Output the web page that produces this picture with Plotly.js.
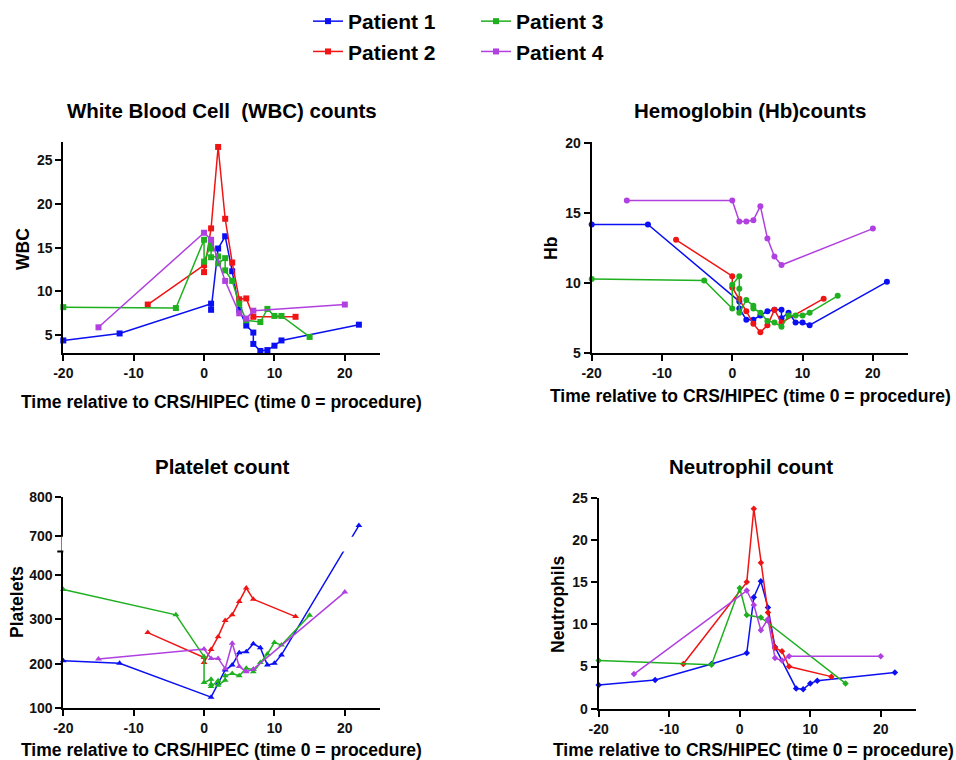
<!DOCTYPE html>
<html>
<head>
<meta charset="utf-8">
<script src="https://cdn.plot.ly/plotly-3.0.1.min.js"></script>
<style>html,body{margin:0;padding:0;background:#fff;}#chart{width:956px;height:760px;}</style>
</head>
<body>
<div id="chart"></div>
<script>
// ---------- data ----------
const patients = ["Patient 1", "Patient 2", "Patient 3", "Patient 4"];
const xTicks = [-20, -10, 0, 10, 20];

// WBC
const wbcX1 = [-20, -12, 1, 1, 2, 3, 4, 5, 6, 7, 7, 8, 9, 10, 11, 22];
const wbcY1 = [4.4, 5.2, 8.6, 7.9, 14.9, 16.3, 12.3, 7.9, 6.1, 5.3, 4.0, 3.2, 3.3, 3.8, 4.4, 6.2];
const wbcX2 = [-8, 0, 0, 1, 2, 3, 4, 5, 6, 7, 13];
const wbcY2 = [8.5, 13.0, 12.2, 17.2, 26.5, 18.3, 13.3, 9.1, 9.2, 7.1, 7.1];
const wbcX3 = [-20, -4, 0, 0, 1, 1, 1, 2, 2, 3, 3, 4, 5, 6, 8, 9, 10, 11, 15];
const wbcY3 = [8.2, 8.1, 15.9, 13.4, 15.4, 14.9, 13.9, 14.0, 13.2, 13.8, 12.4, 11.2, 8.6, 6.7, 6.5, 8.0, 7.2, 7.2, 4.8];
const wbcX4 = [-15, 0, 1, 3, 5, 6, 7, 20];
const wbcY4 = [5.9, 16.7, 15.9, 11.2, 7.5, 6.9, 7.8, 8.5];
const wbcTicks = [5, 10, 15, 20, 25];

// Hb
const hbX1 = [-20, -12, 1, 1, 2, 3, 4, 5, 6, 7, 7, 8, 9, 10, 11, 22];
const hbY1 = [14.2, 14.2, 8.7, 8.2, 7.4, 7.4, 7.7, 8.0, 8.1, 8.1, 7.5, 7.9, 7.2, 7.2, 7.0, 10.1];
const hbX2 = [-8, 0, 0, 1, 2, 3, 4, 5, 6, 7, 13];
const hbY2 = [13.1, 10.5, 9.7, 8.9, 8.0, 7.1, 6.5, 7.0, 8.1, 7.2, 8.9];
const hbX3 = [-20, -4, 0, 0, 1, 1, 1, 2, 3, 3, 4, 5, 6, 7, 8, 9, 10, 11, 15];
const hbY3 = [10.3, 10.2, 8.2, 9.9, 10.5, 9.6, 7.9, 8.8, 8.4, 8.2, 7.9, 7.3, 7.2, 6.9, 7.7, 7.7, 7.7, 7.9, 9.1];
const hbX4 = [-15, 0, 1, 2, 3, 4, 5, 6, 7, 20];
const hbY4 = [15.9, 15.9, 14.4, 14.4, 14.5, 15.5, 13.2, 11.9, 11.3, 13.9];
const hbTicks = [5, 10, 15, 20];

// Platelets
const pltX1 = [-20, -12, 1, 2, 3, 4, 5, 6, 7, 8, 9, 10, 11, 22];
const pltY1 = [207, 201, 125, 156, 186, 197, 225, 227, 245, 236, 197, 201, 220, 727];
const pltX2 = [-8, 0, 0, 1, 2, 3, 4, 5, 6, 7, 13];
const pltY2 = [270, 214, 203, 232, 261, 297, 310, 340, 370, 345, 306];
const pltX3 = [-20, -4, 0, 0, 1, 1, 1, 2, 2, 3, 3, 4, 5, 6, 7, 7, 8, 9, 10, 11, 15];
const pltY3 = [367, 310, 216, 158, 165, 154, 149, 162, 152, 163, 173, 178, 173, 190, 187, 182, 203, 222, 248, 242, 309];
const pltX4 = [-15, 0, 1, 2, 3, 4, 5, 6, 7, 20];
const pltY4 = [211, 233, 212, 212, 189, 246, 194, 182, 188, 361];
const pltTicks = [100, 200, 300, 400, 700, 800];

// Neutrophils
const neuX1 = [-20, -12, -4, 1, 2, 3, 4, 5, 8, 9, 10, 11, 22];
const neuY1 = [2.8, 3.4, 5.3, 6.6, 13.2, 15.1, 12.0, 7.3, 2.4, 2.3, 3.0, 3.3, 4.3];
const neuX2 = [-8, 1, 2, 3, 4, 5, 6, 7, 13];
const neuY2 = [5.3, 15.0, 23.7, 17.3, 11.4, 7.2, 6.8, 5.0, 3.8];
const neuX3 = [-20, -4, 0, 1, 3, 15];
const neuY3 = [5.7, 5.2, 14.3, 11.1, 10.8, 3.0];
const neuX4 = [-15, 1, 2, 3, 4, 5, 6, 7, 20];
const neuY4 = [4.1, 14.0, 12.3, 9.3, 10.6, 6.0, 5.7, 6.2, 6.2];
const neuTicks = [0, 5, 10, 15, 20, 25];

// ---------- styling ----------
const colors = ["#0b10f2", "#f01515", "#1fb01f", "#b040e0"];
const FONT = "Liberation Sans, Arial, Helvetica, sans-serif";
const W = 956, H = 760;
const px = v => v / W;
const py = v => 1 - v / H;

// broken platelet axis: lower segment 100..452, upper segment 700..800
const BREAK_LO = 452, UPPER_START = 487, UPPER_SCALE = 0.87;
const pltMap = v => (v <= BREAK_LO ? v : UPPER_START + (v - 700) * UPPER_SCALE);

const panels = [
  {xs: [wbcX1, wbcX2, wbcX3, wbcX4], ys: [wbcY1, wbcY2, wbcY3, wbcY4], sym: "square", size: 6, ax: ""},
  {xs: [hbX1, hbX2, hbX3, hbX4], ys: [hbY1, hbY2, hbY3, hbY4], sym: "circle", size: 6, ax: "2"},
  {xs: [pltX1, pltX2, pltX3, pltX4], ys: [pltY1, pltY2, pltY3, pltY4].map(a => a.map(pltMap)), sym: "triangle-up", size: 6, ax: "3"},
  {xs: [neuX1, neuX2, neuX3, neuX4], ys: [neuY1, neuY2, neuY3, neuY4], sym: "diamond", size: 5, ax: "4"}
];

const traces = [];
panels.forEach((p, pi) => {
  for (let k = 0; k < 4; k++) {
    traces.push({
      type: "scatter", mode: "lines+markers",
      x: p.xs[k], y: p.ys[k],
      name: patients[k],
      legendgroup: patients[k],
      legend: k < 2 ? "legend" : "legend2",
      showlegend: pi === 0,
      xaxis: "x" + p.ax, yaxis: "y" + p.ax,
      line: {color: colors[k], width: 1.5},
      marker: {color: colors[k], symbol: p.sym, size: p.size},
      cliponaxis: false
    });
  }
});

const tickFont = {family: FONT, size: 14, color: "#111", weight: "bold"};
function xAx(domain, anchor) {
  return {domain, anchor, range: [-20, 25], tickvals: xTicks, ticktext: xTicks.map(String),
    showgrid: false, zeroline: false, showline: true, linecolor: "#000", linewidth: 2,
    ticks: "outside", ticklen: 6, tickwidth: 2, tickcolor: "#000", tickfont: tickFont, fixedrange: true};
}
function yAx(domain, anchor, range, tickvals, ticktext) {
  return {domain, anchor, range, tickvals, ticktext: ticktext || tickvals.map(String),
    showgrid: false, zeroline: false, showline: true, linecolor: "#000", linewidth: 2,
    ticks: "outside", ticklen: 6, tickwidth: 2, tickcolor: "#000", tickfont: tickFont, fixedrange: true};
}

const leftX = [px(63.3), px(380)];
const rightX1 = [px(591.7), px(908)];
const rightX2 = [px(598.7), px(916)];

const titleFont = {family: FONT, size: 20.5, color: "#000", weight: "bold"};
const axTitleFont = {family: FONT, size: 17.5, color: "#000", weight: "bold"};
const xTitle = "Time relative to CRS/HIPEC (time 0 = procedure)";

function ann(text, x, y, font, angle) {
  return {text, x: px(x), y: py(y), xref: "paper", yref: "paper", showarrow: false,
    xanchor: "center", yanchor: "middle", font, textangle: angle || 0};
}

const legendFont = {family: FONT, size: 21, color: "#000", weight: "bold"};

const layout = {
  width: W, height: H,
  margin: {l: 0, r: 0, t: 0, b: 0},
  paper_bgcolor: "#fff", plot_bgcolor: "#fff",
  font: {family: FONT, color: "#000"},
  xaxis: xAx(leftX, "y"),
  yaxis: yAx([py(352.7), py(141.7)], "x", [3, 27.1], wbcTicks),
  xaxis2: xAx(rightX1, "y2"),
  yaxis2: yAx([py(353.3), py(141.7)], "x2", [5, 20.1], hbTicks),
  xaxis3: xAx(leftX, "y3"),
  yaxis3: yAx([py(708.3), py(497.3)], "x3", [100, pltMap(800)], pltTicks.map(pltMap), pltTicks.map(String)),
  xaxis4: xAx(rightX2, "y4"),
  yaxis4: yAx([py(708.7), py(497.7)], "x4", [0, 25], neuTicks),
  legend: {x: px(308), y: py(1), xanchor: "left", yanchor: "top", bgcolor: "rgba(0,0,0,0)",
    font: legendFont, traceorder: "grouped", tracegroupgap: 0, itemwidth: 30},
  legend2: {x: px(476), y: py(1), xanchor: "left", yanchor: "top", bgcolor: "rgba(0,0,0,0)",
    font: legendFont, traceorder: "grouped", tracegroupgap: 0, itemwidth: 30},
  shapes: [
    // gap of the broken platelet axis
    {type: "rect", xref: "paper", yref: "y3", x0: px(61.5), x1: px(420), y0: BREAK_LO + 0.5, y1: UPPER_START - 1.5,
      fillcolor: "#fff", line: {width: 0}, layer: "above"},
    {type: "line", xref: "paper", yref: "y3", x0: px(57.3), x1: px(63.3), y0: BREAK_LO, y1: BREAK_LO,
      line: {color: "#000", width: 2}, layer: "above"}
  ],
  annotations: [
    ann("White Blood Cell  (WBC) counts", 222, 110, titleFont),
    ann("Hemoglobin (Hb)counts", 750, 110, titleFont),
    ann("Platelet count", 222, 466, titleFont),
    ann("Neutrophil count", 751, 466, titleFont),
    ann(xTitle, 221, 402, axTitleFont),
    ann(xTitle, 750, 396, axTitleFont),
    ann(xTitle, 221, 750, axTitleFont),
    ann(xTitle, 753, 750, axTitleFont),
    ann("WBC", 23, 249, axTitleFont, -90),
    ann("Hb", 551, 249, axTitleFont, -90),
    ann("Platelets", 17, 602, axTitleFont, -90),
    ann("Neutrophils", 558, 605, axTitleFont, -90)
  ]
};

Plotly.newPlot("chart", traces, layout, {displayModeBar: false, staticPlot: true});
</script>
</body>
</html>
